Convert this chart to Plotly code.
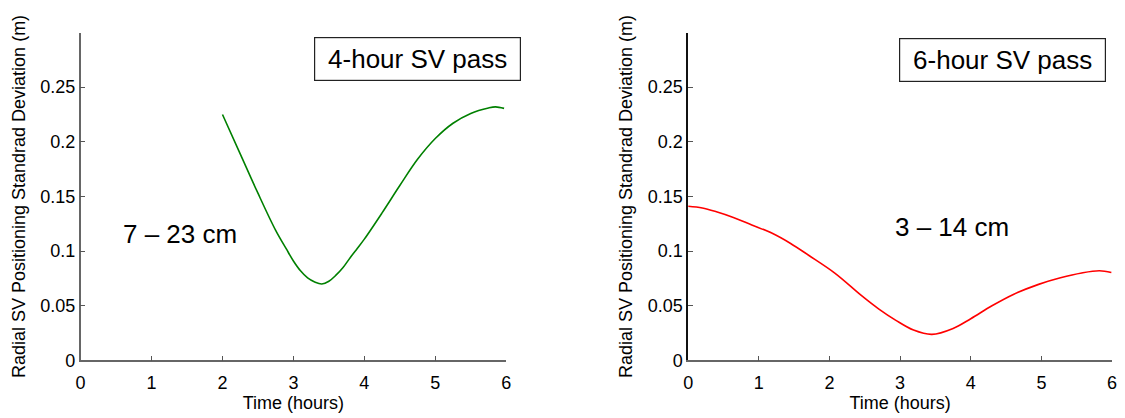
import plotly.graph_objects as go

# ---- data ----
hours_4h = [2.0, 2.25, 2.5, 2.75, 2.9, 3.0, 3.1, 3.2, 3.3, 3.4, 3.5, 3.6, 3.7, 3.8,
            3.9, 4.0, 4.25, 4.5, 4.75, 5.0, 5.25, 5.5, 5.75, 5.85, 5.97]
sigma_4h = [0.225, 0.189, 0.153, 0.119, 0.102, 0.091, 0.082, 0.0755, 0.0718, 0.070,
            0.0725, 0.078, 0.085, 0.094, 0.1025, 0.111, 0.135, 0.160, 0.184, 0.203,
            0.217, 0.226, 0.231, 0.232, 0.2306]

hours_6h = [0, 0.2, 0.4, 0.63, 0.9, 1.19, 1.45, 1.71, 2.08, 2.45, 2.7, 2.94, 3.19,
            3.45, 3.75, 4.0, 4.3, 4.61, 4.96, 5.27, 5.57, 5.82, 5.99]
sigma_6h = [0.141, 0.1395, 0.136, 0.131, 0.124, 0.1163, 0.107, 0.096, 0.0797, 0.0595,
            0.047, 0.0367, 0.0278, 0.0239, 0.0293, 0.0382, 0.050, 0.0606, 0.0696,
            0.0756, 0.080, 0.082, 0.0805]

x_ticks = [0, 1, 2, 3, 4, 5, 6]
y_ticks = [0, 0.05, 0.1, 0.15, 0.2, 0.25]
y_ticktext = ["0", "0.05", "0.1", "0.15", "0.2", "0.25"]

box_labels = ["4-hour SV pass", "6-hour SV pass"]
range_labels = ["7 \u2013 23 cm", "3 \u2013 14 cm"]

x_title = "Time (hours)"
y_title = "Radial SV Positioning Standrad Deviation (m)"

FONT = "Liberation Sans, Arial, Helvetica, sans-serif"

fig = go.Figure()
fig.add_trace(go.Scatter(x=hours_4h, y=sigma_4h, mode="lines",
                         line=dict(color="#008000", width=1.6, shape="spline", smoothing=1.0),
                         xaxis="x", yaxis="y", showlegend=False))
fig.add_trace(go.Scatter(x=hours_6h, y=sigma_6h, mode="lines",
                         line=dict(color="#ff0000", width=1.6, shape="spline", smoothing=1.0),
                         xaxis="x2", yaxis="y2", showlegend=False))

W, H = 1125, 418
ydom = [1 - 369.3 / H, 1 - 33.3 / H]
xdom1 = [76.3 / W, 505.7 / W]
xdom2 = [689.3 / W, 1117 / W]

def xaxis(dom, anchor):
    return dict(domain=dom, anchor=anchor, range=[0, 6], tickvals=x_ticks,
                ticks="inside", ticklen=5, tickcolor="#555", showline=True,
                linecolor="#666", linewidth=1.5, showgrid=False, zeroline=False,
                ticklabelstandoff=5,
                tickfont=dict(family=FONT, size=18, color="black"),
                title=dict(text=x_title, font=dict(family=FONT, size=18, color="black"), standoff=4))

def yaxis(anchor, linecolor):
    return dict(domain=ydom, anchor=anchor, range=[0, 0.3], tickvals=y_ticks, ticktext=y_ticktext,
                ticks="inside", ticklen=5, tickcolor="#555", showline=True,
                linecolor=linecolor, linewidth=1.5, showgrid=False, zeroline=False,
                tickfont=dict(family=FONT, size=18, color="black"),
                title=dict(text=y_title, font=dict(family=FONT, size=18, color="black"), standoff=10))

fig.update_layout(
    width=W, height=H,
    margin=dict(l=0, r=0, t=0, b=0),
    paper_bgcolor="white", plot_bgcolor="white",
    xaxis=xaxis(xdom1, "y"),
    yaxis=yaxis("x", "#666"),
    xaxis2=xaxis(xdom2, "y2"),
    yaxis2=yaxis("x2", "#111"),
    font=dict(family=FONT),
)

annos = [
    dict(x=4.75, y=0.2758, xref="x", yref="y", text=box_labels[0]),
    dict(x=4.447, y=0.2751, xref="x2", yref="y2", text=box_labels[1]),
]
for a in annos:
    fig.add_annotation(**a, showarrow=False, font=dict(family=FONT, size=26, color="black"),
                       bordercolor="#222", borderwidth=1.2, borderpad=0, bgcolor="white",
                       width=205, height=42, align="center", valign="middle")

fig.add_annotation(x=1.40, y=0.116, xref="x", yref="y", text=range_labels[0], showarrow=False,
                   font=dict(family=FONT, size=26, color="black"))
fig.add_annotation(x=3.73, y=0.122, xref="x2", yref="y2", text=range_labels[1], showarrow=False,
                   font=dict(family=FONT, size=26, color="black"))

fig.write_html("out.html")
